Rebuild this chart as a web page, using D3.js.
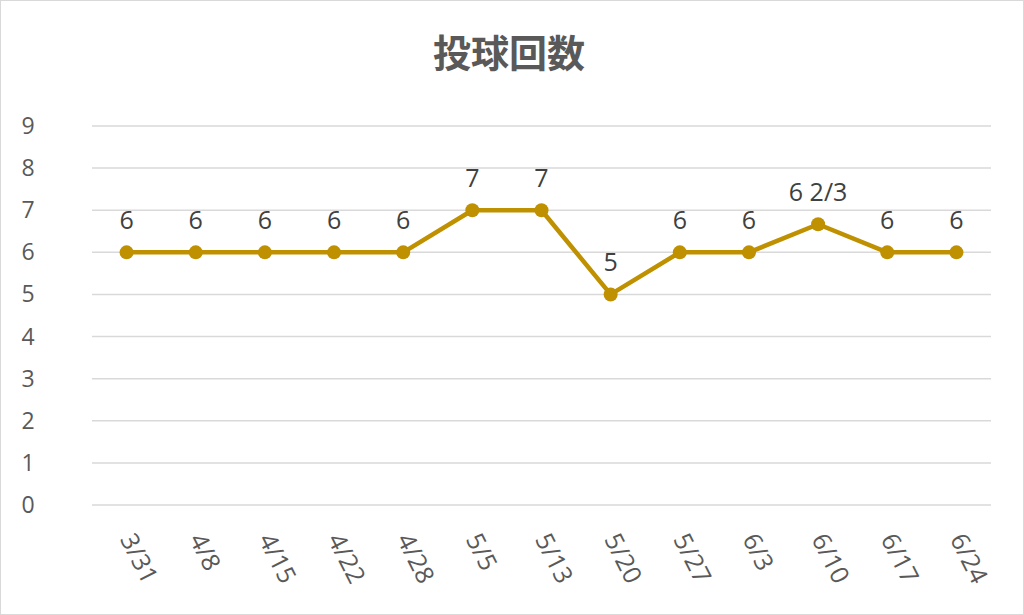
<!DOCTYPE html>
<html lang="ja">
<head>
<meta charset="UTF-8"/>
<title>投球回数</title>
<script src="https://d3js.org/d3.v7.min.js"></script>
<style>
  body { margin: 0; background: #fff; }
  svg text { font-family: "Open Sans", "Noto Sans", sans-serif; }
</style>
</head>
<body>
<svg id="chart" width="1024" height="615"></svg>
<script>
// game dates, innings pitched and the label shown above each point
const dates = ["3/31", "4/8", "4/15", "4/22", "4/28", "5/5", "5/13", "5/20", "5/27", "6/3", "6/10", "6/17", "6/24"];
const innings = [6, 6, 6, 6, 6, 7, 7, 5, 6, 6, 20 / 3, 6, 6];
const pointLabels = ["6", "6", "6", "6", "6", "7", "7", "5", "6", "6", "6 2/3", "6", "6"];
const yTicks = [0, 1, 2, 3, 4, 5, 6, 7, 8, 9];

const width = 1024, height = 615;
const plot = { left: 92, right: 991, top: 126, bottom: 505 };
const lineColor = "#BF9000";

const svg = d3.select("#chart");

// outer chart border
svg.append("rect")
  .attr("x", 0.5).attr("y", 0.5)
  .attr("width", width - 1).attr("height", height - 1)
  .attr("fill", "#fff")
  .attr("stroke", "#d9d9d9");

svg.append("text")
  .attr("x", 509).attr("y", 67)
  .attr("text-anchor", "middle")
  .style("font-family", "'Noto Sans CJK JP', sans-serif")
  .style("font-weight", "bold")
  .style("font-size", "38px")
  .attr("fill", "#595959")
  .text("投球回数");

var x = d3.scaleBand().domain(dates).range([plot.left, plot.right]);
var y = d3.scaleLinear().domain([0, 9]).range([plot.bottom, plot.top]);

// horizontal gridlines
svg.append("g")
  .selectAll("line")
  .data(yTicks)
  .join("line")
  .attr("x1", plot.left).attr("x2", plot.right)
  .attr("y1", d => y(d)).attr("y2", d => y(d))
  .attr("stroke", "#d9d9d9")
  .attr("stroke-width", 1.5);

// y axis labels
svg.append("g")
  .selectAll("text")
  .data(yTicks)
  .join("text")
  .attr("x", 28)
  .attr("y", d => y(d) + 8)
  .attr("text-anchor", "middle")
  .style("font-size", "23px")
  .attr("fill", "#595959")
  .text(d => d);

// x axis labels, rotated
svg.append("g")
  .selectAll("text")
  .data(dates)
  .join("text")
  .attr("transform", d => "translate(" + (x(d) + x.bandwidth() / 2 - 7) + "," + 539 + ") rotate(63)")
  .attr("text-anchor", "start")
  .style("font-size", "25px")
  .attr("fill", "#595959")
  .text(d => d);

const cx = (d, i) => x(dates[i]) + x.bandwidth() / 2;

var line = d3.line()
  .x((d, i) => cx(d, i))
  .y(d => y(d));

svg.append("path")
  .datum(innings)
  .attr("d", line)
  .attr("fill", "none")
  .attr("stroke", lineColor)
  .attr("stroke-width", 4.5)
  .attr("stroke-linejoin", "round");

svg.append("g")
  .selectAll("circle")
  .data(innings)
  .join("circle")
  .attr("cx", cx)
  .attr("cy", d => y(d))
  .attr("r", 7)
  .attr("fill", lineColor);

// data labels
svg.append("g")
  .selectAll("text")
  .data(innings)
  .join("text")
  .attr("x", cx)
  .attr("y", d => y(d) - 23)
  .attr("text-anchor", "middle")
  .style("font-size", "25px")
  .attr("fill", "#404040")
  .text((d, i) => pointLabels[i]);
</script>
</body>
</html>
